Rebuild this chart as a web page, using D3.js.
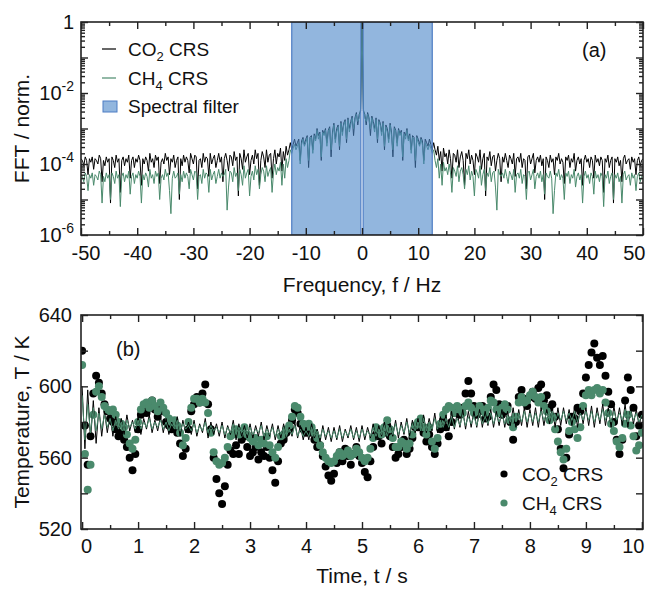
<!DOCTYPE html>
<html>
<head>
<meta charset="utf-8">
<script src="https://cdn.jsdelivr.net/npm/d3@7"></script>
<style>
body { margin: 0; background: #fff; }
text { font-family: "Liberation Sans", Arial, sans-serif; fill: #111; }
</style>
</head>
<body>
<div id="chart"></div>
<script>

// ---- panel (a): FFT magnitudes, log10 of normalised value, f = 0 .. 50 Hz in 0.25 Hz steps
// (spectrum of a real signal, negative frequencies are the mirror image)
var fft_step = 0.25;
var co2_fft_log = [0,
    -2.5, -2.6, -2.9, -2.55, -2.7, -3.2, -2.65, -2.8, -3.0, -2.7, -3.4, -2.75,
    -2.85, -3.1, -2.8, -3.6, -2.9, -3.0, -3.3, -2.85, -3.1, -3.8, -2.95, -3.05,
    -3.4, -3.0, -3.15, -3.05, -3.9, -3.1, -3.2, -3.0, -3.3, -3.15, -3.6, -3.2,
    -3.25, -4.1, -3.2, -3.3, -3.45, -3.25, -3.35, -3.9, -3.3, -3.4, -3.5, -3.3,
    -3.45, -3.6,
    -3.4, -3.6, -3.75, -3.5, -3.9, -3.65, -4.2, -3.55, -3.8, -3.7,
    -4.0, -3.6, -3.85, -4.4, -3.7, -3.75, -3.95, -3.6, -4.1, -3.8,
    -3.65, -3.9, -4.6, -3.7, -3.85, -3.6, -4.0, -3.75, -3.9, -4.3,
    -3.7, -3.8, -3.95, -3.6, -4.15, -3.85, -3.7, -4.9, -3.8, -3.9,
    -3.65, -4.05, -3.8, -3.75, -4.2, -3.9, -3.7, -3.85, -4.5, -3.8,
    -3.95, -3.7, -3.9, -4.1, -3.75, -3.85, -4.0, -3.7, -4.35, -3.85,
    -3.8, -3.95, -3.7, -4.1, -3.85, -3.9, -4.7, -3.8, -3.75, -4.0,
    -3.85, -3.7, -4.25, -3.9, -3.8, -3.95, -3.75, -4.05, -3.85, -5.0,
    -3.8, -3.9, -4.1, -3.75, -3.95, -3.85, -4.3, -3.8, -3.9, -3.7,
    -4.0, -3.85, -3.95, -4.55, -3.8, -3.9, -3.75, -4.1, -3.85, -3.95,
    -3.7, -4.2, -3.9, -3.8, -4.0, -3.85, -4.6, -3.9, -3.75, -3.95,
    -3.85, -4.1, -3.8, -3.9, -4.4, -3.75, -3.95, -3.85, -4.05, -3.8,
    -3.9, -4.8, -3.85, -3.95, -3.75, -4.1, -3.9, -3.8, -5.1, -3.85,
    -3.95, -3.8, -4.05, -3.9, -4.5, -3.85, -3.75, -4.0, -3.9, -3.85,
    -4.15, -3.8, -3.95, -3.85, -4.3, -3.9, -3.8, -4.05, -3.9, -3.85];

var ch4_fft_log = [0,
    -2.45, -2.7, -2.8, -2.6, -2.75, -3.0, -2.7, -2.9, -3.1, -2.75, -3.3, -2.8,
    -2.9, -3.2, -2.85, -3.5, -2.95, -3.1, -3.4, -2.9, -3.2, -3.6, -3.0, -3.1,
    -3.5, -3.05, -3.2, -3.1, -3.8, -3.15, -3.3, -3.05, -3.35, -3.2, -3.7, -3.25,
    -3.3, -3.9, -3.25, -3.4, -3.5, -3.3, -3.45, -4.0, -3.4, -3.5, -3.6, -3.45,
    -3.55, -3.7,
    -3.6, -3.9, -4.1, -3.85, -4.4, -4.0, -4.6, -3.95, -4.2, -4.1,
    -4.3, -4.0, -4.25, -4.8, -4.1, -4.2, -4.35, -4.05, -4.5, -4.2,
    -4.1, -4.3, -4.7, -4.15, -4.3, -4.05, -4.45, -4.2, -4.35, -4.9,
    -4.15, -4.25, -4.4, -4.05, -4.6, -4.3, -4.15, -4.75, -4.25, -4.35,
    -4.1, -4.5, -4.25, -4.2, -4.65, -5.3, -4.15, -4.3, -4.35, -4.25,
    -4.4, -4.15, -4.35, -4.55, -4.2, -4.3, -4.45, -4.15, -4.8, -4.3,
    -4.25, -4.4, -4.15, -4.55, -4.3, -4.35, -5.0, -4.25, -4.2, -4.45,
    -4.3, -4.15, -4.7, -4.35, -4.25, -4.4, -4.2, -4.5, -4.3, -4.85,
    -4.25, -4.35, -4.4, -4.2, -4.4, -5.4, -4.75, -4.25, -4.35, -4.15,
    -4.45, -4.3, -4.4, -5.0, -4.25, -4.35, -4.2, -4.55, -4.3, -4.4,
    -4.15, -4.65, -4.35, -4.25, -4.45, -4.3, -5.1, -4.35, -4.2, -4.4,
    -4.3, -4.55, -4.25, -4.35, -4.85, -4.2, -4.4, -4.3, -4.5, -4.25,
    -4.35, -5.2, -4.3, -4.4, -4.2, -4.55, -4.35, -4.25, -5.0, -4.3,
    -4.4, -4.25, -4.5, -4.35, -5.1, -4.3, -4.2, -4.45, -4.35, -4.3,
    -4.6, -4.25, -4.4, -4.3, -4.75, -4.35, -4.25, -4.5, -4.35, -4.3];

var filter_band = [-12.5, 12.5];
var freq_ticks = [-50, -40, -30, -20, -10, 0, 10, 20, 30, 40, 50];
var fft_decades = [0, -1, -2, -3, -4, -5, -6];
var fft_labelled = [0, -2, -4, -6];

// ---- panel (b): temperatures, t = 0 .. 10 s in 0.05 s steps
var time_step = 0.05;
var co2_temp = [
    620, 578, 556, 572, 596, 606, 602, 596, 590, 586,
    582, 580, 576, 572, 574, 570, 566, 560, 553, 562,
    576, 584, 588, 585, 588, 592, 587, 583, 589, 586,
    580, 578, 576, 577, 574, 568, 561, 565, 576, 586,
    590, 594, 591, 596, 601, 590, 576, 560, 548, 540,
    534, 544, 556, 564, 562, 567, 562, 570, 572, 566,
    561, 563, 566, 559, 563, 561, 566, 560, 553, 546,
    558, 568, 570, 574, 576, 581, 587, 585, 579, 576,
    574, 577, 574, 570, 566, 567, 561, 555, 550, 547,
    551, 557, 563, 558, 565, 561, 556, 562, 566, 561,
    557, 552, 549, 558, 566, 573, 572, 568, 574, 578,
    572, 566, 560, 562, 566, 570, 562, 565, 571, 577,
    577, 581, 574, 569, 573, 566, 562, 568, 576, 581,
    577, 572, 580, 585, 588, 584, 588, 596, 603, 596,
    589, 584, 586, 589, 582, 583, 594, 601, 598, 590,
    584, 586, 589, 580, 570, 580, 594, 598, 593, 589,
    594, 597, 593, 599, 601, 592, 595, 588, 590, 583,
    576, 565, 554, 560, 573, 583, 582, 588, 586, 596,
    605, 612, 619, 624, 616, 612, 617, 606, 597, 590,
    580, 570, 562, 570, 592, 605, 598, 588, 572, 578,
    584];

var ch4_temp = [
    612, 562, 542, 556, 584, 597, 600, 594, 589, 587,
    586, 587, 584, 580, 579, 577, 573, 568, 565, 570,
    580, 587, 590, 591, 588, 592, 589, 586, 591, 588,
    585, 582, 580, 581, 578, 574, 567, 571, 580, 588,
    593, 593, 591, 593, 591, 585, 574, 563, 558, 556,
    557, 560, 566, 572, 573, 576, 573, 575, 577, 573,
    571, 569, 571, 567, 570, 568, 572, 567, 563, 560,
    566, 572, 573, 576, 578, 583, 589, 588, 583, 579,
    577, 579, 577, 574, 571, 567, 563, 560, 558, 557,
    558, 561, 563, 561, 562, 564, 561, 562, 565, 563,
    560, 558, 560, 565, 571, 577, 576, 573, 577, 581,
    576, 571, 566, 566, 569, 568, 565, 568, 573, 578,
    580, 582, 577, 573, 577, 569, 565, 571, 579, 584,
    587, 589, 588, 585, 589, 587, 585, 589, 591, 588,
    585, 586, 589, 587, 585, 588, 592, 591, 587, 585,
    588, 590, 587, 581, 577, 583, 591, 594, 591, 592,
    595, 597, 594, 591, 594, 589, 586, 581, 583, 576,
    569, 563, 559, 565, 575, 580, 576, 571, 577, 589,
    595, 598, 595, 598, 599, 596, 598, 591, 585, 579,
    575, 569, 566, 571, 579, 584, 578, 572, 564, 567,
    574];

var co2_line = [
    600, 565, 598, 570, 592, 568, 588, 572, 586, 574,
    584, 572, 583, 574, 582, 573, 584, 575, 581, 574,
    583, 573, 582, 576, 584, 574, 581, 575, 583, 574,
    582, 573, 580, 575, 583, 572, 581, 574, 580, 573,
    581, 572, 579, 574, 582, 571, 580, 573, 579, 572,
    580, 571, 578, 573, 581, 570, 579, 572, 578, 571,
    579, 571, 578, 572, 580, 570, 578, 572, 579, 570,
    578, 571, 579, 570, 577, 572, 580, 571, 578, 570,
    577, 570, 579, 571, 576, 569, 578, 570, 577, 569,
    577, 570, 578, 569, 576, 571, 578, 570, 577, 569,
    578, 570, 577, 571, 579, 570, 578, 572, 580, 571,
    579, 572, 581, 571, 580, 573, 582, 572, 581, 574,
    582, 573, 584, 574, 582, 575, 585, 574, 583, 576,
    584, 575, 586, 576, 585, 577, 587, 576, 586, 577,
    586, 577, 587, 577, 586, 578, 587, 577, 586, 578,
    587, 577, 586, 578, 588, 577, 587, 578, 588, 577,
    587, 578, 588, 577, 588, 578, 587, 579, 588, 577,
    588, 578, 588, 579, 587, 578, 589, 577, 588, 579,
    588, 578, 589, 577, 588, 579, 590, 578, 588, 577,
    589, 579, 588, 578, 590, 577, 588, 579, 587, 578,
    585];

var ch4_line = [
    595, 570, 590, 574, 588, 575, 585, 576, 584, 577,
    582, 575, 581, 576, 580, 575, 581, 577, 580, 576,
    581, 576, 580, 577, 582, 576, 580, 577, 581, 576,
    580, 575, 579, 576, 581, 575, 579, 576, 578, 575,
    579, 574, 578, 575, 580, 574, 578, 575, 577, 574,
    578, 573, 577, 574, 579, 573, 577, 574, 576, 573,
    577, 573, 576, 574, 578, 572, 576, 573, 577, 572,
    576, 573, 577, 572, 576, 573, 578, 572, 576, 572,
    575, 572, 577, 572, 575, 571, 576, 572, 575, 571,
    575, 571, 576, 571, 575, 572, 576, 571, 575, 571,
    576, 572, 575, 572, 577, 572, 576, 573, 578, 572,
    577, 573, 579, 573, 578, 574, 580, 574, 579, 575,
    580, 575, 582, 575, 580, 576, 582, 576, 581, 577,
    582, 577, 583, 577, 582, 578, 584, 578, 583, 579,
    583, 578, 585, 579, 583, 579, 585, 579, 584, 580,
    584, 579, 584, 580, 585, 580, 585, 580, 586, 580,
    585, 580, 585, 580, 586, 581, 585, 581, 586, 580,
    585, 581, 586, 581, 585, 581, 586, 580, 585, 581,
    586, 581, 586, 580, 585, 581, 587, 581, 586, 580,
    586, 581, 585, 581, 587, 580, 586, 581, 585, 580,
    584];

var time_ticks = [0, 1, 2, 3, 4, 5, 6, 7, 8, 9, 10];
var temp_ticks = [520, 560, 600, 640];

var black = "#000000";
var green = "#4a8a6c";
var filter_fill = "#4a86c8";
var filter_edge = "#4d7cc4";

var svg = d3.select("#chart")
    .append("svg")
    .attr("width", 646)
    .attr("height", 589);

function style_axis(g) {
    g.select(".domain").remove();
    g.selectAll(".tick line").attr("stroke", "#222").attr("stroke-width", 1.4);
    g.selectAll(".tick text")
        .style("font-size", "20px")
        .style("font-family", "'Liberation Sans', Arial, sans-serif")
        .attr("fill", "#111");
}

function legend_label(sel, x, y, base, sub) {
    var t = sel.append("text")
        .attr("x", x).attr("y", y)
        .style("font-size", "19px");
    t.append("tspan").text(base);
    t.append("tspan").attr("dy", 5).style("font-size", "13px").text(sub);
    t.append("tspan").attr("dy", -5).text(" CRS");
}

// ---------------- panel (a) ----------------
var a = { left: 81, right: 643, top: 22, bottom: 235 };

var f_scale = d3.scaleLinear().domain([-50, 50]).range([a.left, a.right]);
var fft_scale = d3.scaleLog().domain([1e-6, 1]).range([a.bottom, a.top]);

function spectrum(logs) {
    var pts = [];
    for (var i = logs.length - 1; i >= 1; i--) {
        pts.push({ f: -i * fft_step, v: Math.pow(10, logs[i]) });
    }
    for (var i = 0; i < logs.length; i++) {
        pts.push({ f: i * fft_step, v: Math.pow(10, logs[i]) });
    }
    return pts;
}

svg.append("clipPath").attr("id", "clip_a")
    .append("rect")
    .attr("x", a.left).attr("y", a.top)
    .attr("width", a.right - a.left).attr("height", a.bottom - a.top);

var fft_line = d3.line()
    .x(function(d) { return f_scale(d.f); })
    .y(function(d) { return fft_scale(d.v); });

var panel_a = svg.append("g").attr("clip-path", "url(#clip_a)");

panel_a.append("path")
    .datum(spectrum(co2_fft_log))
    .attr("d", fft_line)
    .attr("fill", "none")
    .attr("stroke", black)
    .attr("stroke-width", 1);

panel_a.append("path")
    .datum(spectrum(ch4_fft_log))
    .attr("d", fft_line)
    .attr("fill", "none")
    .attr("stroke", green)
    .attr("stroke-width", 1);

// spectral filter, two halves with the DC bin left open
var filter_parts = [[filter_band[0], -0.2], [0.2, filter_band[1]]];
panel_a.selectAll(".filter")
    .data(filter_parts)
    .enter()
    .append("rect")
    .attr("class", "filter")
    .attr("x", function(d) { return f_scale(d[0]); })
    .attr("y", a.top)
    .attr("width", function(d) { return f_scale(d[1]) - f_scale(d[0]); })
    .attr("height", a.bottom - a.top)
    .attr("fill", filter_fill)
    .attr("fill-opacity", 0.6)
    .attr("stroke", filter_edge)
    .attr("stroke-width", 1.2);

// axes of panel (a)
var f_minor = d3.range(-45, 50, 10);

svg.append("g")
    .attr("class", "xaxis_a")
    .attr("transform", "translate(0," + a.bottom + ")")
    .call(d3.axisBottom(f_scale).tickValues(freq_ticks).tickSize(-7).tickPadding(11)
        .tickFormat(function(d) { return String(d); }))
    .call(style_axis);

svg.append("g")
    .attr("transform", "translate(0," + a.bottom + ")")
    .call(d3.axisBottom(f_scale).tickValues(f_minor).tickSize(-4).tickFormat(""))
    .call(style_axis);

svg.append("g")
    .attr("transform", "translate(0," + a.top + ")")
    .call(d3.axisTop(f_scale).tickValues(freq_ticks).tickSize(-7).tickFormat(""))
    .call(style_axis);

svg.append("g")
    .attr("transform", "translate(0," + a.top + ")")
    .call(d3.axisTop(f_scale).tickValues(f_minor).tickSize(-4).tickFormat(""))
    .call(style_axis);

var log_major = fft_decades.map(function(e) { return Math.pow(10, e); });
var log_minor = [];
for (var e = -6; e < 0; e++) {
    for (var k = 2; k <= 9; k++) log_minor.push(k * Math.pow(10, e));
}

svg.append("g")
    .attr("transform", "translate(" + a.left + ",0)")
    .call(d3.axisLeft(fft_scale).tickValues(log_major).tickSize(-7).tickFormat(""))
    .call(style_axis);

svg.append("g")
    .attr("transform", "translate(" + a.left + ",0)")
    .call(d3.axisLeft(fft_scale).tickValues(log_minor).tickSize(-4).tickFormat(""))
    .call(style_axis);

svg.append("g")
    .attr("transform", "translate(" + a.right + ",0)")
    .call(d3.axisRight(fft_scale).tickValues(log_major).tickSize(-7).tickFormat(""))
    .call(style_axis);

svg.append("g")
    .attr("transform", "translate(" + a.right + ",0)")
    .call(d3.axisRight(fft_scale).tickValues(log_minor).tickSize(-4).tickFormat(""))
    .call(style_axis);

// power-of-ten labels
fft_labelled.forEach(function(e) {
    var t = svg.append("text")
        .attr("x", a.left - 7)
        .attr("y", fft_scale(Math.pow(10, e)) + 7)
        .attr("text-anchor", "end")
        .style("font-size", "20px");
    if (e === 0) {
        t.text("1");
    } else {
        t.append("tspan").text("10");
        t.append("tspan").attr("dy", -9).style("font-size", "14px").text(String(e));
    }
});

svg.append("rect")
    .attr("x", a.left).attr("y", a.top)
    .attr("width", a.right - a.left).attr("height", a.bottom - a.top)
    .attr("fill", "none").attr("stroke", "#222").attr("stroke-width", 1.6);

svg.append("text")
    .attr("x", (a.left + a.right) / 2)
    .attr("y", 292)
    .attr("text-anchor", "middle")
    .style("font-size", "21px")
    .text("Frequency, f / Hz");

svg.append("text")
    .attr("transform", "translate(29," + ((a.top + a.bottom) / 2) + ") rotate(-90)")
    .attr("text-anchor", "middle")
    .style("font-size", "21px")
    .text("FFT / norm.");

svg.append("text")
    .attr("x", 582).attr("y", 57)
    .style("font-size", "20px")
    .text("(a)");

// legend (a)
var legend_a = svg.append("g");
[["CO", "2", black, 49], ["CH", "4", green, 78]].forEach(function(row) {
    legend_a.append("line")
        .attr("x1", 102).attr("x2", 116)
        .attr("y1", row[3]).attr("y2", row[3])
        .attr("stroke", row[2]).attr("stroke-width", 1.2);
    legend_label(legend_a, 128, row[3] + 6.5, row[0], row[1]);
});
legend_a.append("rect")
    .attr("x", 103).attr("y", 101)
    .attr("width", 14).attr("height", 11)
    .attr("fill", filter_fill).attr("fill-opacity", 0.6)
    .attr("stroke", filter_edge).attr("stroke-width", 1);
legend_a.append("text")
    .attr("x", 128).attr("y", 113)
    .style("font-size", "19px")
    .text("Spectral filter");

// ---------------- panel (b) ----------------
var b = { left: 81, right: 643, top: 315, bottom: 529 };

var t_scale = d3.scaleLinear().domain([-0.02, 10.02]).range([b.left, b.right]);
var temp_scale = d3.scaleLinear().domain([520, 640]).range([b.bottom, b.top]);

function series(values) {
    return values.map(function(v, i) { return { t: i * time_step, v: v }; });
}

svg.append("clipPath").attr("id", "clip_b")
    .append("rect")
    .attr("x", b.left).attr("y", b.top)
    .attr("width", b.right - b.left).attr("height", b.bottom - b.top);

var panel_b = svg.append("g").attr("clip-path", "url(#clip_b)");

panel_b.selectAll(".co2dot")
    .data(series(co2_temp))
    .enter()
    .append("circle")
    .attr("class", "co2dot")
    .attr("cx", function(d) { return t_scale(d.t); })
    .attr("cy", function(d) { return temp_scale(d.v); })
    .attr("r", 4)
    .style("fill", black);

panel_b.selectAll(".ch4dot")
    .data(series(ch4_temp))
    .enter()
    .append("circle")
    .attr("class", "ch4dot")
    .attr("cx", function(d) { return t_scale(d.t); })
    .attr("cy", function(d) { return temp_scale(d.v); })
    .attr("r", 4)
    .style("fill", green);

var temp_line = d3.line()
    .x(function(d) { return t_scale(d.t); })
    .y(function(d) { return temp_scale(d.v); });

panel_b.append("path")
    .datum(series(co2_line))
    .attr("d", temp_line)
    .attr("fill", "none")
    .attr("stroke", black)
    .attr("stroke-width", 1);

panel_b.append("path")
    .datum(series(ch4_line))
    .attr("d", temp_line)
    .attr("fill", "none")
    .attr("stroke", green)
    .attr("stroke-width", 1);

// axes of panel (b)
var t_minor = d3.range(0.5, 10, 1);
var temp_minor = [540, 580, 620];

svg.append("g")
    .attr("class", "xaxis_b")
    .attr("transform", "translate(0," + b.bottom + ")")
    .call(d3.axisBottom(t_scale).tickValues(time_ticks).tickSize(-7).tickPadding(10)
        .tickFormat(function(d) { return String(d); }))
    .call(style_axis);

svg.append("g")
    .attr("transform", "translate(0," + b.bottom + ")")
    .call(d3.axisBottom(t_scale).tickValues(t_minor).tickSize(-4).tickFormat(""))
    .call(style_axis);

svg.append("g")
    .attr("transform", "translate(0," + b.top + ")")
    .call(d3.axisTop(t_scale).tickValues(time_ticks).tickSize(-7).tickFormat(""))
    .call(style_axis);

svg.append("g")
    .attr("transform", "translate(0," + b.top + ")")
    .call(d3.axisTop(t_scale).tickValues(t_minor).tickSize(-4).tickFormat(""))
    .call(style_axis);

svg.append("g")
    .attr("transform", "translate(" + b.left + ",0)")
    .call(d3.axisLeft(temp_scale).tickValues(temp_ticks).tickSize(-7).tickPadding(9)
        .tickFormat(function(d) { return String(d); }))
    .call(style_axis);

svg.append("g")
    .attr("transform", "translate(" + b.left + ",0)")
    .call(d3.axisLeft(temp_scale).tickValues(temp_minor).tickSize(-7).tickFormat(""))
    .call(style_axis);

svg.append("g")
    .attr("transform", "translate(" + b.right + ",0)")
    .call(d3.axisRight(temp_scale).tickValues(temp_ticks.concat(temp_minor)).tickSize(-7).tickFormat(""))
    .call(style_axis);

svg.append("rect")
    .attr("x", b.left).attr("y", b.top)
    .attr("width", b.right - b.left).attr("height", b.bottom - b.top)
    .attr("fill", "none").attr("stroke", "#222").attr("stroke-width", 1.6);

svg.append("text")
    .attr("x", (b.left + b.right) / 2)
    .attr("y", 583)
    .attr("text-anchor", "middle")
    .style("font-size", "21px")
    .text("Time, t / s");

svg.append("text")
    .attr("transform", "translate(29," + ((b.top + b.bottom) / 2) + ") rotate(-90)")
    .attr("text-anchor", "middle")
    .style("font-size", "21px")
    .text("Temperature, T / K");

svg.append("text")
    .attr("x", 116).attr("y", 356)
    .style("font-size", "20px")
    .text("(b)");

// legend (b)
[["CO", "2", black, 474], ["CH", "4", green, 503]].forEach(function(row) {
    svg.append("circle")
        .attr("cx", 504).attr("cy", row[3])
        .attr("r", 3.6)
        .style("fill", row[2]);
    legend_label(svg, 522, row[3] + 7, row[0], row[1]);
});

// end tick labels are pulled inside the frame, as in the original figure
svg.select(".xaxis_a").selectAll(".tick text").each(function(d) {
    if (d === -50) d3.select(this).attr("text-anchor", "start").attr("x", -10);
    if (d === 50) d3.select(this).attr("text-anchor", "end").attr("x", 2);
});
svg.select(".xaxis_b").selectAll(".tick text").each(function(d) {
    if (d === 0) d3.select(this).attr("x", 4);
    if (d === 10) d3.select(this).attr("text-anchor", "end").attr("x", 2);
});
</script>
</body>
</html>
